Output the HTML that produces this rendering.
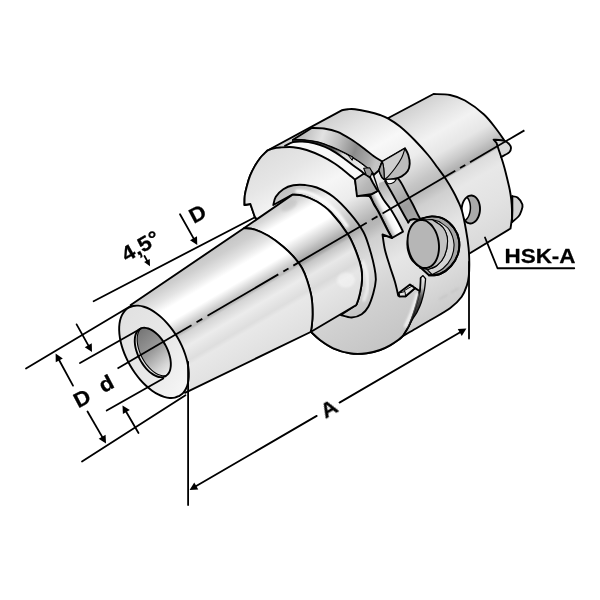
<!DOCTYPE html>
<html><head><meta charset="utf-8"><title>HSK-A</title>
<style>
html,body{margin:0;padding:0;background:#fff;}
svg{display:block;}
text{font-family:"Liberation Sans",sans-serif;font-weight:bold;fill:#000;}
</style></head><body>
<svg width="600" height="600" viewBox="0 0 600 600" stroke-linejoin="round" stroke-linecap="round">
<defs>
<filter id="bl" x="-20%" y="-20%" width="140%" height="140%"><feGaussianBlur stdDeviation="0.9"/></filter><linearGradient id="gCone" gradientUnits="userSpaceOnUse" x1="190.2" y1="259.6" x2="249.8" y2="361.4"><stop offset="0" stop-color="#c4c4c4"/><stop offset="0.09" stop-color="#cecece"/><stop offset="0.18" stop-color="#e4e4e4"/><stop offset="0.26" stop-color="#ffffff"/><stop offset="0.37" stop-color="#ffffff"/><stop offset="0.455" stop-color="#d0d0d0"/><stop offset="0.5" stop-color="#bababa"/><stop offset="0.52" stop-color="#d4d4d4"/><stop offset="0.62" stop-color="#ececec"/><stop offset="0.73" stop-color="#dedede"/><stop offset="0.77" stop-color="#e8e8e8"/><stop offset="1" stop-color="#e0e0e0"/></linearGradient><linearGradient id="gCyl" gradientUnits="userSpaceOnUse" x1="268.2" y1="209.3" x2="331.8" y2="318.1"><stop offset="0" stop-color="#c8c8c8"/><stop offset="0.06" stop-color="#d8d8d8"/><stop offset="0.15" stop-color="#ffffff"/><stop offset="0.3" stop-color="#ffffff"/><stop offset="0.4" stop-color="#d2d2d2"/><stop offset="0.47" stop-color="#adadad"/><stop offset="0.505" stop-color="#a6a6a6"/><stop offset="0.53" stop-color="#c6c6c6"/><stop offset="0.62" stop-color="#e8e8e8"/><stop offset="0.72" stop-color="#dadada"/><stop offset="0.78" stop-color="#e6e6e6"/><stop offset="1" stop-color="#dcdcdc"/></linearGradient><linearGradient id="gFace" gradientUnits="userSpaceOnUse" x1="120.0" y1="330.0" x2="190.0" y2="375.0"><stop offset="0" stop-color="#e2e2e2"/><stop offset="0.6" stop-color="#e9e9e9"/><stop offset="1" stop-color="#f4f4f4"/></linearGradient><linearGradient id="gHole" gradientUnits="userSpaceOnUse" x1="136.0" y1="335.0" x2="170.0" y2="372.0"><stop offset="0" stop-color="#787878"/><stop offset="0.45" stop-color="#9a9a9a"/><stop offset="0.8" stop-color="#d2d2d2"/><stop offset="1" stop-color="#ececec"/></linearGradient><linearGradient id="gFlFace" gradientUnits="userSpaceOnUse" x1="273.4" y1="149.5" x2="386.6" y2="342.8"><stop offset="0" stop-color="#dedede"/><stop offset="0.12" stop-color="#e6e6e6"/><stop offset="0.25" stop-color="#f6f6f6"/><stop offset="0.36" stop-color="#ececec"/><stop offset="0.44" stop-color="#c8c8c8"/><stop offset="0.49" stop-color="#b2b2b2"/><stop offset="0.52" stop-color="#b8b8b8"/><stop offset="0.57" stop-color="#d0d0d0"/><stop offset="0.68" stop-color="#dedede"/><stop offset="0.8" stop-color="#d2d2d2"/><stop offset="1" stop-color="#c6c6c6"/></linearGradient><linearGradient id="gFlRim" gradientUnits="userSpaceOnUse" x1="363.4" y1="96.8" x2="476.6" y2="290.1"><stop offset="0" stop-color="#d0d0d0"/><stop offset="0.1" stop-color="#e4e4e4"/><stop offset="0.22" stop-color="#f8f8f8"/><stop offset="0.34" stop-color="#ececec"/><stop offset="0.45" stop-color="#c6c6c6"/><stop offset="0.5" stop-color="#bababa"/><stop offset="0.55" stop-color="#d0d0d0"/><stop offset="0.7" stop-color="#e6e6e6"/><stop offset="0.85" stop-color="#dcdcdc"/><stop offset="1" stop-color="#cccccc"/></linearGradient><linearGradient id="gShank" gradientUnits="userSpaceOnUse" x1="430.6" y1="96.9" x2="509.4" y2="231.5"><stop offset="0" stop-color="#d2d2d2"/><stop offset="0.1" stop-color="#e2e2e2"/><stop offset="0.22" stop-color="#f2f2f2"/><stop offset="0.34" stop-color="#e6e6e6"/><stop offset="0.42" stop-color="#cacaca"/><stop offset="0.495" stop-color="#aaaaaa"/><stop offset="0.505" stop-color="#dcdcdc"/><stop offset="0.6" stop-color="#e8e8e8"/><stop offset="0.8" stop-color="#e2e2e2"/><stop offset="1" stop-color="#d8d8d8"/></linearGradient><linearGradient id="gGroove" gradientUnits="userSpaceOnUse" x1="294.4" y1="139.5" x2="405.6" y2="329.4"><stop offset="0" stop-color="#b4b4b4"/><stop offset="0.15" stop-color="#c8c8c8"/><stop offset="0.25" stop-color="#eeeeee"/><stop offset="0.36" stop-color="#c0c0c0"/><stop offset="0.5" stop-color="#a0a0a0"/><stop offset="0.6" stop-color="#b8b8b8"/><stop offset="1" stop-color="#c8c8c8"/></linearGradient><linearGradient id="gCollar" gradientUnits="userSpaceOnUse" x1="288.6" y1="186.9" x2="361.4" y2="311.2"><stop offset="0" stop-color="#c0c0c0"/><stop offset="0.1" stop-color="#cecece"/><stop offset="0.2" stop-color="#f4f4f4"/><stop offset="0.32" stop-color="#e0e0e0"/><stop offset="0.46" stop-color="#bababa"/><stop offset="0.5" stop-color="#adadad"/><stop offset="0.56" stop-color="#cacaca"/><stop offset="0.75" stop-color="#e0e0e0"/><stop offset="1" stop-color="#c6c6c6"/></linearGradient><clipPath id="cpSH"><path d="M470.07,223.48 C470.47,223.42 471.69,223.40 472.47,223.13 C473.25,222.86 474.04,222.42 474.76,221.85 C475.48,221.28 476.17,220.55 476.78,219.73 C477.38,218.90 477.94,217.93 478.39,216.91 C478.84,215.88 479.22,214.74 479.48,213.58 C479.75,212.43 479.92,211.19 479.99,209.98 C480.05,208.78 480.01,207.52 479.86,206.35 C479.72,205.17 479.46,203.99 479.12,202.93 C478.78,201.86 478.33,200.84 477.81,199.95 C477.30,199.07 476.68,198.27 476.03,197.63 C475.37,196.99 474.63,196.47 473.89,196.12 C473.14,195.77 472.33,195.56 471.53,195.52 C470.74,195.48 469.91,195.60 469.13,195.87 C468.35,196.14 467.56,196.58 466.84,197.15 C466.12,197.72 465.43,198.45 464.82,199.27 C464.22,200.10 463.66,201.07 463.21,202.09 C462.76,203.12 462.38,204.26 462.12,205.42 C461.85,206.57 461.68,207.81 461.61,209.02 C461.55,210.22 461.59,211.48 461.74,212.65 C461.88,213.83 462.14,215.01 462.48,216.07 C462.82,217.14 463.27,218.16 463.79,219.05 C464.30,219.93 464.92,220.73 465.57,221.37 C466.23,222.01 466.97,222.53 467.71,222.88 C468.46,223.23 469.68,223.38 470.07,223.48 C470.46,223.58 469.67,223.54 470.07,223.48Z"/></clipPath><linearGradient id="gLens" gradientUnits="userSpaceOnUse" x1="295.0" y1="138.0" x2="375.0" y2="165.0"><stop offset="0" stop-color="#b0b0b0"/><stop offset="0.3" stop-color="#e2e2e2"/><stop offset="0.5" stop-color="#c0c0c0"/><stop offset="0.72" stop-color="#8c8c8c"/><stop offset="0.9" stop-color="#a8a8a8"/><stop offset="1" stop-color="#c4c4c4"/></linearGradient><linearGradient id="gWedge" gradientUnits="userSpaceOnUse" x1="300.0" y1="140.0" x2="365.0" y2="172.0"><stop offset="0" stop-color="#2a2a2a"/><stop offset="0.45" stop-color="#454545"/><stop offset="0.62" stop-color="#d8d8d8"/><stop offset="1" stop-color="#f0f0f0"/></linearGradient><linearGradient id="gB34" gradientUnits="userSpaceOnUse" x1="392.0" y1="180.0" x2="418.0" y2="222.0"><stop offset="0" stop-color="#c4c4c4"/><stop offset="0.35" stop-color="#b0b0b0"/><stop offset="0.6" stop-color="#9c9c9c"/><stop offset="1" stop-color="#a8a8a8"/></linearGradient><linearGradient id="gB23" gradientUnits="userSpaceOnUse" x1="382.0" y1="186.0" x2="406.0" y2="228.0"><stop offset="0" stop-color="#b8b8b8"/><stop offset="0.3" stop-color="#d4d4d4"/><stop offset="0.6" stop-color="#e6e6e6"/><stop offset="1" stop-color="#d0d0d0"/></linearGradient><linearGradient id="gStrip" gradientUnits="userSpaceOnUse" x1="379.5" y1="214.5" x2="389.0" y2="209.7"><stop offset="0" stop-color="#8a8a8a"/><stop offset="0.25" stop-color="#bdbdbd"/><stop offset="0.55" stop-color="#f2f2f2"/><stop offset="1" stop-color="#ffffff"/></linearGradient><linearGradient id="gStrip2" gradientUnits="userSpaceOnUse" x1="422.0" y1="277.0" x2="416.0" y2="318.0"><stop offset="0" stop-color="#f0f0f0"/><stop offset="0.25" stop-color="#c0c0c0"/><stop offset="0.5" stop-color="#505050"/><stop offset="1" stop-color="#202020"/></linearGradient><linearGradient id="gKey" gradientUnits="userSpaceOnUse" x1="356.0" y1="176.0" x2="376.0" y2="194.0"><stop offset="0" stop-color="#d0d0d0"/><stop offset="0.5" stop-color="#b8b8b8"/><stop offset="1" stop-color="#a8a8a8"/></linearGradient><clipPath id="cpHole"><path d="M165.43,376.25 C165.77,375.99 166.87,375.33 167.48,374.70 C168.08,374.07 168.63,373.32 169.08,372.47 C169.53,371.63 169.90,370.67 170.18,369.64 C170.46,368.61 170.66,367.48 170.76,366.29 C170.86,365.10 170.87,363.82 170.79,362.52 C170.71,361.21 170.54,359.83 170.28,358.44 C170.02,357.05 169.66,355.61 169.23,354.18 C168.80,352.75 168.28,351.30 167.69,349.87 C167.10,348.45 166.42,347.02 165.69,345.65 C164.96,344.27 164.15,342.91 163.30,341.63 C162.45,340.34 161.54,339.09 160.59,337.94 C159.65,336.78 158.66,335.68 157.65,334.69 C156.64,333.70 155.60,332.78 154.56,331.98 C153.52,331.18 152.45,330.48 151.41,329.90 C150.37,329.32 149.32,328.85 148.31,328.50 C147.30,328.16 146.29,327.93 145.34,327.84 C144.39,327.74 143.46,327.77 142.60,327.92 C141.74,328.07 140.92,328.35 140.17,328.75 C139.43,329.15 138.73,329.67 138.12,330.30 C137.52,330.93 136.97,331.68 136.52,332.53 C136.07,333.37 135.70,334.33 135.42,335.36 C135.14,336.39 134.94,337.52 134.84,338.71 C134.74,339.90 134.73,341.18 134.81,342.48 C134.89,343.79 135.06,345.17 135.32,346.56 C135.58,347.95 135.94,349.39 136.37,350.82 C136.80,352.25 137.32,353.70 137.91,355.13 C138.50,356.55 139.18,357.98 139.91,359.35 C140.64,360.73 141.45,362.09 142.30,363.37 C143.15,364.66 144.06,365.91 145.01,367.06 C145.95,368.22 146.94,369.32 147.95,370.31 C148.96,371.30 150.00,372.22 151.04,373.02 C152.08,373.82 153.15,374.52 154.19,375.10 C155.23,375.68 156.28,376.15 157.29,376.50 C158.30,376.84 159.31,377.07 160.26,377.16 C161.21,377.26 162.14,377.23 163.00,377.08 C163.86,376.93 165.02,376.39 165.43,376.25 C165.83,376.11 165.09,376.51 165.43,376.25Z"/></clipPath>
</defs>
<rect width="600" height="600" fill="#fff"/>
<path d="M388.30,118.00 L433.50,94.00 C436.25,94.17 444.75,93.92 450.00,95.00 C455.25,96.08 459.33,97.25 465.00,100.50 C470.67,103.75 478.67,109.58 484.00,114.50 C489.33,119.42 493.58,125.62 497.00,130.00 C500.42,134.38 503.25,139.00 504.50,140.80 L501.20,157.00 C501.75,158.83 503.45,164.17 504.50,168.00 C505.55,171.83 506.62,176.33 507.50,180.00 C508.38,183.67 509.17,186.67 509.80,190.00 C510.43,193.33 510.93,196.67 511.30,200.00 C511.67,203.33 511.88,207.08 512.00,210.00 C512.12,212.92 512.12,215.33 512.00,217.50 C511.88,219.67 511.55,221.17 511.30,223.00 C511.05,224.83 510.63,227.58 510.50,228.50 L467.00,255.00 L440.00,180.00Z" fill="url(#gShank)" stroke="#000" stroke-width="1.9" />
<path d="M493.60,139.60 C495.42,139.80 501.87,140.02 504.50,140.80 C507.13,141.58 508.32,143.10 509.40,144.30 C510.48,145.50 511.03,146.65 511.00,148.00 C510.97,149.35 510.83,150.90 509.20,152.40 C507.57,153.90 502.53,156.23 501.20,157.00 L498.80,150.00 L496.50,142.80Z" fill="#d8d8d8" stroke="#000" stroke-width="1.9" />
<path d="M512.20,196.30 C513.08,196.50 515.80,196.13 517.50,197.50 C519.20,198.87 521.77,202.25 522.40,204.50 C523.03,206.75 521.95,209.00 521.30,211.00 C520.65,213.00 520.05,214.67 518.50,216.50 C516.95,218.33 513.08,221.08 512.00,222.00 L512.00,210.00Z" fill="#d2d2d2" stroke="#000" stroke-width="1.9" />
<path d="M512.20,196.30 L512.40,210.00 L512.00,222.00" fill="none" stroke="#000" stroke-width="1.9" />
<path d="M470.07,223.48 C470.47,223.42 471.69,223.40 472.47,223.13 C473.25,222.86 474.04,222.42 474.76,221.85 C475.48,221.28 476.17,220.55 476.78,219.73 C477.38,218.90 477.94,217.93 478.39,216.91 C478.84,215.88 479.22,214.74 479.48,213.58 C479.75,212.43 479.92,211.19 479.99,209.98 C480.05,208.78 480.01,207.52 479.86,206.35 C479.72,205.17 479.46,203.99 479.12,202.93 C478.78,201.86 478.33,200.84 477.81,199.95 C477.30,199.07 476.68,198.27 476.03,197.63 C475.37,196.99 474.63,196.47 473.89,196.12 C473.14,195.77 472.33,195.56 471.53,195.52 C470.74,195.48 469.91,195.60 469.13,195.87 C468.35,196.14 467.56,196.58 466.84,197.15 C466.12,197.72 465.43,198.45 464.82,199.27 C464.22,200.10 463.66,201.07 463.21,202.09 C462.76,203.12 462.38,204.26 462.12,205.42 C461.85,206.57 461.68,207.81 461.61,209.02 C461.55,210.22 461.59,211.48 461.74,212.65 C461.88,213.83 462.14,215.01 462.48,216.07 C462.82,217.14 463.27,218.16 463.79,219.05 C464.30,219.93 464.92,220.73 465.57,221.37 C466.23,222.01 466.97,222.53 467.71,222.88 C468.46,223.23 469.68,223.38 470.07,223.48 C470.46,223.58 469.67,223.54 470.07,223.48Z" fill="#a9a9a9" stroke="none" stroke-width="1.9" />
<g clip-path="url(#cpSH)">
<path d="M460.47,222.28 C460.87,222.22 462.09,222.20 462.87,221.93 C463.65,221.66 464.44,221.22 465.16,220.65 C465.88,220.08 466.57,219.35 467.18,218.53 C467.78,217.70 468.34,216.73 468.79,215.71 C469.24,214.68 469.62,213.54 469.88,212.38 C470.15,211.23 470.32,209.99 470.39,208.78 C470.45,207.58 470.41,206.32 470.26,205.15 C470.12,203.97 469.86,202.79 469.52,201.73 C469.18,200.66 468.73,199.64 468.21,198.75 C467.70,197.87 467.08,197.07 466.43,196.43 C465.77,195.79 465.03,195.27 464.29,194.92 C463.54,194.57 462.73,194.36 461.93,194.32 C461.14,194.28 460.31,194.40 459.53,194.67 C458.75,194.94 457.96,195.38 457.24,195.95 C456.52,196.52 455.83,197.25 455.22,198.07 C454.62,198.90 454.06,199.87 453.61,200.89 C453.16,201.92 452.78,203.06 452.52,204.22 C452.25,205.37 452.08,206.61 452.01,207.82 C451.95,209.02 451.99,210.28 452.14,211.45 C452.28,212.63 452.54,213.81 452.88,214.87 C453.22,215.94 453.67,216.96 454.19,217.85 C454.70,218.73 455.32,219.53 455.97,220.17 C456.63,220.81 457.37,221.33 458.11,221.68 C458.86,222.03 460.08,222.18 460.47,222.28 C460.86,222.38 460.07,222.34 460.47,222.28Z" fill="#ffffff" stroke="#000" stroke-width="1.5" />
</g>
<path d="M470.07,223.48 C470.47,223.42 471.69,223.40 472.47,223.13 C473.25,222.86 474.04,222.42 474.76,221.85 C475.48,221.28 476.17,220.55 476.78,219.73 C477.38,218.90 477.94,217.93 478.39,216.91 C478.84,215.88 479.22,214.74 479.48,213.58 C479.75,212.43 479.92,211.19 479.99,209.98 C480.05,208.78 480.01,207.52 479.86,206.35 C479.72,205.17 479.46,203.99 479.12,202.93 C478.78,201.86 478.33,200.84 477.81,199.95 C477.30,199.07 476.68,198.27 476.03,197.63 C475.37,196.99 474.63,196.47 473.89,196.12 C473.14,195.77 472.33,195.56 471.53,195.52 C470.74,195.48 469.91,195.60 469.13,195.87 C468.35,196.14 467.56,196.58 466.84,197.15 C466.12,197.72 465.43,198.45 464.82,199.27 C464.22,200.10 463.66,201.07 463.21,202.09 C462.76,203.12 462.38,204.26 462.12,205.42 C461.85,206.57 461.68,207.81 461.61,209.02 C461.55,210.22 461.59,211.48 461.74,212.65 C461.88,213.83 462.14,215.01 462.48,216.07 C462.82,217.14 463.27,218.16 463.79,219.05 C464.30,219.93 464.92,220.73 465.57,221.37 C466.23,222.01 466.97,222.53 467.71,222.88 C468.46,223.23 469.68,223.38 470.07,223.48 C470.46,223.58 469.67,223.54 470.07,223.48Z" fill="none" stroke="#000" stroke-width="1.9" />
<path d="M267.50,150.50 L341.70,110.30 C342.75,110.12 345.78,109.38 348.00,109.20 C350.22,109.02 351.62,108.78 355.00,109.20 C358.38,109.62 364.13,110.73 368.30,111.70 C372.47,112.67 376.67,113.85 380.00,115.00 C383.33,116.15 384.97,116.68 388.30,118.60 C391.63,120.52 395.63,122.93 400.00,126.50 C404.37,130.07 409.75,135.17 414.50,140.00 C419.25,144.83 424.67,150.92 428.50,155.50 C432.33,160.08 434.67,163.67 437.50,167.50 C440.33,171.33 442.92,174.58 445.50,178.50 C448.08,182.42 450.92,187.25 453.00,191.00 C455.08,194.75 456.50,197.67 458.00,201.00 C459.50,204.33 460.67,206.17 462.00,211.00 C463.33,215.83 464.90,223.83 466.00,230.00 C467.10,236.17 468.05,242.33 468.60,248.00 C469.15,253.67 469.27,259.33 469.30,264.00 C469.33,268.67 469.18,272.50 468.80,276.00 C468.42,279.50 468.18,281.55 467.00,285.00 C465.82,288.45 464.53,292.82 461.70,296.70 C458.87,300.58 455.28,304.37 450.00,308.30 C444.72,312.23 435.67,316.93 430.00,320.30 C424.33,323.67 420.50,325.92 416.00,328.50 C411.50,331.08 405.17,334.58 403.00,335.80 C402.25,336.47 400.67,338.22 398.50,339.80 C396.33,341.38 393.08,343.60 390.00,345.30 C386.92,347.00 383.88,348.67 380.00,350.00 C376.12,351.33 371.70,352.75 366.70,353.30 C361.70,353.85 355.57,354.13 350.00,353.30 C344.43,352.47 338.30,350.52 333.30,348.30 C328.30,346.08 323.75,342.77 320.00,340.00 C316.25,337.23 312.33,333.08 310.80,331.70 L300.00,250.00 L255.00,217.50 L250.40,204.00 L244.50,205.00 C244.55,203.42 244.40,198.67 244.80,195.50 C245.20,192.33 246.02,189.30 246.90,186.00 C247.78,182.70 248.78,179.02 250.10,175.70 C251.42,172.38 253.08,169.10 254.80,166.10 C256.52,163.10 258.82,159.78 260.40,157.70 C261.98,155.62 263.12,154.80 264.30,153.60 C265.48,152.40 266.97,151.02 267.50,150.50Z" fill="url(#gFlRim)" stroke="#000" stroke-width="1.9" />
<path d="M311.70,128.00 C313.75,128.08 319.70,127.87 324.00,128.50 C328.30,129.13 333.00,130.00 337.50,131.80 C342.00,133.60 346.58,136.52 351.00,139.30 C355.42,142.08 360.25,145.72 364.00,148.50 C367.75,151.28 370.45,153.83 373.50,156.00 C376.55,158.17 380.83,160.58 382.30,161.50 L379.00,170.30 L373.70,175.00 C372.80,174.00 370.97,171.33 368.30,169.00 C365.63,166.67 361.50,163.55 357.70,161.00 C353.90,158.45 349.83,156.00 345.50,153.70 C341.17,151.40 336.23,149.10 331.70,147.20 C327.17,145.30 322.75,143.45 318.30,142.30 C313.85,141.15 309.22,140.73 305.00,140.30 C300.78,139.87 295.00,139.80 293.00,139.70Z" fill="url(#gLens)" stroke="#000" stroke-width="1.9" />
<path d="M293.00,139.70 C295.00,139.80 300.78,139.87 305.00,140.30 C309.22,140.73 313.85,141.15 318.30,142.30 C322.75,143.45 327.17,145.30 331.70,147.20 C336.23,149.10 341.17,151.40 345.50,153.70 C349.83,156.00 353.90,158.45 357.70,161.00 C361.50,163.55 366.53,167.67 368.30,169.00 L364.00,174.00 C363.62,173.58 363.53,172.95 361.70,171.50 C359.87,170.05 355.78,167.35 353.00,165.30 C350.22,163.25 347.88,161.32 345.00,159.20 C342.12,157.08 339.03,154.63 335.70,152.60 C332.37,150.57 328.57,148.55 325.00,147.00 C321.43,145.45 318.08,144.20 314.30,143.30 C310.52,142.40 305.85,141.78 302.30,141.60 C298.75,141.42 294.55,142.10 293.00,142.20Z" fill="url(#gWedge)" stroke="#000" stroke-width="1.0" />
<path d="M391.00,172.00 C392.45,173.42 397.08,176.95 399.70,180.50 C402.32,184.05 404.57,189.42 406.70,193.30 C408.83,197.18 410.57,200.10 412.50,203.80 C414.43,207.50 416.83,212.77 418.30,215.50 C419.77,218.23 420.80,219.42 421.30,220.20 L414.00,219.00 L410.00,220.00 L408.30,222.50 C407.63,221.33 405.93,218.42 404.30,215.50 C402.67,212.58 400.63,208.88 398.50,205.00 C396.37,201.12 393.73,196.18 391.50,192.20 C389.27,188.22 386.17,182.95 385.10,181.10Z" fill="url(#gB34)" stroke="none" stroke-width="1.9" />
<path d="M385.10,181.10 C386.17,182.95 389.27,188.22 391.50,192.20 C393.73,196.18 396.37,201.12 398.50,205.00 C400.63,208.88 402.67,212.58 404.30,215.50 C405.93,218.42 407.63,221.33 408.30,222.50 L403.00,231.60 C402.67,230.92 402.08,229.60 401.00,227.50 C399.92,225.40 398.25,222.08 396.50,219.00 C394.75,215.92 392.58,212.12 390.50,209.00 C388.42,205.88 385.97,203.30 384.00,200.30 C382.03,197.30 379.58,192.55 378.70,191.00 L379.00,183.00Z" fill="url(#gB23)" stroke="none" stroke-width="1.9" />
<path d="M391.00,172.00 C392.45,173.42 397.08,176.95 399.70,180.50 C402.32,184.05 404.57,189.42 406.70,193.30 C408.83,197.18 410.57,200.10 412.50,203.80 C414.43,207.50 416.83,212.77 418.30,215.50 C419.77,218.23 420.80,219.42 421.30,220.20" fill="none" stroke="#000" stroke-width="1.9" />
<path d="M385.10,181.10 C386.17,182.95 389.27,188.22 391.50,192.20 C393.73,196.18 396.37,201.12 398.50,205.00 C400.63,208.88 402.67,212.58 404.30,215.50 C405.93,218.42 407.63,221.33 408.30,222.50" fill="none" stroke="#000" stroke-width="1.9" />
<path d="M408.30,222.50 L410.00,220.00 L414.00,219.00 L421.30,220.20" fill="none" stroke="#000" stroke-width="1.9" />
<path d="M267.50,150.50 C268.42,150.17 270.92,149.00 273.00,148.50 C275.08,148.00 276.62,147.72 280.00,147.50 C283.38,147.28 288.85,146.78 293.30,147.20 C297.75,147.62 301.97,148.50 306.70,150.00 C311.43,151.50 316.98,153.92 321.70,156.20 C326.42,158.48 331.45,161.45 335.00,163.70 C338.55,165.95 340.33,167.60 343.00,169.70 C345.67,171.80 349.00,174.63 351.00,176.30 C353.00,177.97 354.33,179.13 355.00,179.70 L363.70,173.70 L364.00,174.00 C363.62,173.58 363.53,172.95 361.70,171.50 C359.87,170.05 355.78,167.35 353.00,165.30 C350.22,163.25 347.88,161.32 345.00,159.20 C342.12,157.08 339.03,154.63 335.70,152.60 C332.37,150.57 328.57,148.55 325.00,147.00 C321.43,145.45 318.08,144.20 314.30,143.30 C310.52,142.40 305.85,141.78 302.30,141.60 C298.75,141.42 295.88,141.50 293.00,142.20 C290.12,142.90 286.33,145.20 285.00,145.80 L280.00,147.50Z" fill="#f8f8f8" stroke="none" stroke-width="1.9" />
<path d="M285.00,145.80 C286.33,145.20 290.12,142.90 293.00,142.20 C295.88,141.50 298.75,141.42 302.30,141.60 C305.85,141.78 310.52,142.40 314.30,143.30 C318.08,144.20 321.43,145.45 325.00,147.00 C328.57,148.55 332.37,150.57 335.70,152.60 C339.03,154.63 342.12,157.08 345.00,159.20 C347.88,161.32 350.22,163.25 353.00,165.30 C355.78,167.35 359.87,170.05 361.70,171.50 C363.53,172.95 363.62,173.58 364.00,174.00" fill="none" stroke="#000" stroke-width="1.9" />
<path d="M369.90,195.10 C370.50,196.50 372.07,200.68 373.50,203.50 C374.93,206.32 376.92,209.08 378.50,212.00 C380.08,214.92 381.50,218.00 383.00,221.00 C384.50,224.00 386.00,227.17 387.50,230.00 C389.00,232.83 391.25,236.67 392.00,238.00 L403.00,231.60 C402.67,230.92 402.08,229.60 401.00,227.50 C399.92,225.40 398.25,222.08 396.50,219.00 C394.75,215.92 392.58,212.12 390.50,209.00 C388.42,205.88 385.97,203.30 384.00,200.30 C382.03,197.30 379.58,192.55 378.70,191.00 L377.70,191.00Z" fill="url(#gStrip)" stroke="#000" stroke-width="1.9" />
<path d="M255.00,217.50 L250.40,204.00 L244.50,205.00 C244.55,203.42 244.40,198.67 244.80,195.50 C245.20,192.33 246.02,189.30 246.90,186.00 C247.78,182.70 248.78,179.02 250.10,175.70 C251.42,172.38 253.08,169.10 254.80,166.10 C256.52,163.10 258.82,159.78 260.40,157.70 C261.98,155.62 263.12,154.80 264.30,153.60 C265.48,152.40 266.97,151.02 267.50,150.50 C268.42,150.17 270.92,149.00 273.00,148.50 C275.08,148.00 276.62,147.72 280.00,147.50 C283.38,147.28 288.85,146.78 293.30,147.20 C297.75,147.62 301.97,148.50 306.70,150.00 C311.43,151.50 316.98,153.92 321.70,156.20 C326.42,158.48 331.45,161.45 335.00,163.70 C338.55,165.95 340.33,167.60 343.00,169.70 C345.67,171.80 349.00,174.63 351.00,176.30 C353.00,177.97 354.33,179.13 355.00,179.70 L357.50,195.30 L369.00,196.00 C370.50,196.50 372.07,200.68 373.50,203.50 C374.93,206.32 376.92,209.08 378.50,212.00 C380.08,214.92 381.50,218.00 383.00,221.00 C384.50,224.00 386.00,227.17 387.50,230.00 C389.00,232.83 391.25,236.67 392.00,238.00 L382.50,234.50 C382.92,237.08 383.75,244.63 385.00,250.00 C386.25,255.37 388.33,261.37 390.00,266.70 C391.67,272.03 393.62,277.15 395.00,282.00 C396.38,286.85 397.75,293.50 398.30,295.80 L405.60,296.25 L415.00,288.10 L419.60,291.00 C419.15,292.92 417.98,298.50 416.90,302.50 C415.82,306.50 414.46,311.04 413.10,315.00 C411.74,318.96 410.43,322.78 408.75,326.25 C407.07,329.72 403.96,334.21 403.00,335.80 C402.25,336.47 400.67,338.22 398.50,339.80 C396.33,341.38 393.08,343.60 390.00,345.30 C386.92,347.00 383.88,348.67 380.00,350.00 C376.12,351.33 371.70,352.75 366.70,353.30 C361.70,353.85 355.57,354.13 350.00,353.30 C344.43,352.47 338.30,350.52 333.30,348.30 C328.30,346.08 323.75,342.77 320.00,340.00 C316.25,337.23 312.33,333.08 310.80,331.70 L300.00,250.00Z" fill="url(#gFlFace)" stroke="#000" stroke-width="1.9" />
<path d="M398.75,293.10 L410.00,284.40 L415.00,288.10 L405.60,296.25 L399.40,296.60Z" fill="#e4e4e4" stroke="#000" stroke-width="1.9" />
<path d="M405.60,296.25 L405.00,291.50 L398.75,293.10" fill="none" stroke="#000" stroke-width="1.0" />
<path d="M404.50,290.50 L413.00,285.50" fill="none" stroke="#000" stroke-width="1.0" />
<path d="M408.75,326.25 C409.48,324.38 411.74,318.96 413.10,315.00 C414.46,311.04 415.75,306.67 416.90,302.50 C418.05,298.33 419.38,294.12 420.00,290.00 C420.62,285.88 420.50,279.83 420.60,277.80 L423.00,275.60 L425.60,278.75 C425.40,280.62 425.12,286.04 424.40,290.00 C423.67,293.96 422.50,298.75 421.25,302.50 C420.00,306.25 418.22,309.92 416.90,312.50 C415.57,315.08 414.66,315.71 413.30,318.00 C411.94,320.29 409.51,324.88 408.75,326.25Z" fill="url(#gStrip2)" stroke="#000" stroke-width="1.3" />
<path d="M403.00,335.80 C403.96,334.21 407.07,329.72 408.75,326.25 C410.43,322.78 411.74,318.96 413.10,315.00 C414.46,311.04 415.75,306.67 416.90,302.50 C418.05,298.33 419.38,294.12 420.00,290.00 C420.62,285.88 420.50,279.83 420.60,277.80" fill="none" stroke="#000" stroke-width="1.5" />
<path d="M417.30,294.00 C416.83,295.67 415.63,300.50 414.50,304.00 C413.37,307.50 412.00,311.33 410.50,315.00 C409.00,318.67 406.33,324.17 405.50,326.00" fill="none" stroke="#ffffff" stroke-width="3.0" opacity="0.8" filter="url(#bl)"/>
<path d="M355.00,179.50 L363.70,173.70 L366.30,175.00 L370.30,177.70 L373.00,183.00 L377.70,191.00 L371.00,194.30 L357.00,196.30Z" fill="url(#gKey)" stroke="#000" stroke-width="1.9" />
<path d="M363.70,168.30 L369.70,167.70 L372.30,172.30 L370.30,177.00 L366.30,175.00Z" fill="#9c9c9c" stroke="#000" stroke-width="1.1" />
<path d="M348.30,155.00 L353.00,157.00 L352.30,160.00Z" fill="#a0a0a0" stroke="#000" stroke-width="1.0" />
<path d="M372.50,172.30 C373.00,173.75 374.47,177.88 375.50,181.00 C376.53,184.12 378.17,189.33 378.70,191.00" fill="none" stroke="#000" stroke-width="1.4" />
<path d="M382.30,161.50 L405.00,148.30 C405.55,149.42 407.52,152.43 408.30,155.00 C409.08,157.57 409.80,161.03 409.70,163.70 C409.60,166.37 409.03,168.90 407.70,171.00 C406.37,173.10 404.03,174.97 401.70,176.30 C399.37,177.63 396.37,178.43 393.70,179.00 C391.03,179.57 387.60,179.92 385.70,179.70 C383.80,179.48 383.20,178.70 382.30,177.70 C381.40,176.70 380.85,174.93 380.30,173.70 C379.75,172.47 379.22,170.87 379.00,170.30Z" fill="#bcbcbc" stroke="#000" stroke-width="1.9" />
<path d="M382.30,161.50 L405.00,148.30 C404.45,149.87 403.37,154.37 401.70,157.70 C400.03,161.03 397.23,165.20 395.00,168.30 C392.77,171.40 390.08,174.43 388.30,176.30 C386.52,178.17 384.97,178.97 384.30,179.50 C384.20,177.63 384.03,171.30 383.70,168.30 C383.37,165.30 382.53,162.63 382.30,161.50Z" fill="#cecece" stroke="#000" stroke-width="1.1" />
<path d="M382.30,161.50 C382.53,162.63 383.37,165.30 383.70,168.30 C384.03,171.30 384.20,177.63 384.30,179.50 L382.30,177.70 L380.30,173.70 L379.00,170.30Z" fill="#a4a4a4" stroke="#000" stroke-width="1.1" />
<path d="M385.70,179.50 C386.08,180.17 386.70,183.00 388.00,183.50 C389.30,184.00 392.08,183.25 393.50,182.50 C394.92,181.75 396.00,179.58 396.50,179.00Z" fill="#ffffff" stroke="#000" stroke-width="1.1" />
<path d="M420.00,219.00 C422.00,218.57 428.00,216.40 432.00,216.40 C436.00,216.40 440.33,217.07 444.00,219.00 C447.67,220.93 451.50,224.50 454.00,228.00 C456.50,231.50 458.33,235.67 459.00,240.00 C459.67,244.33 459.33,249.67 458.00,254.00 C456.67,258.33 454.00,262.67 451.00,266.00 C448.00,269.33 443.67,272.45 440.00,274.00 C436.33,275.55 430.83,275.08 429.00,275.30 L421.00,268.00 C419.50,266.67 414.17,263.00 412.00,260.00 C409.83,257.00 408.73,253.00 408.00,250.00 C407.27,247.00 407.27,245.33 407.60,242.00 C407.93,238.67 408.77,233.25 410.00,230.00 C411.23,226.75 413.33,224.33 415.00,222.50 C416.67,220.67 419.17,219.58 420.00,219.00Z" fill="#a6a6a6" stroke="#000" stroke-width="1.9" />
<path d="M439.00,221.50 C440.67,222.83 446.50,225.75 449.00,229.50 C451.50,233.25 453.67,239.17 454.00,244.00 C454.33,248.83 452.83,254.42 451.00,258.50 C449.17,262.58 446.17,265.83 443.00,268.50 C439.83,271.17 433.83,273.50 432.00,274.50 L426.00,268.40 C429.50,268.83 434.25,267.75 437.00,265.50 C439.75,263.25 442.75,260.25 444.50,256.00 C446.25,251.75 447.75,244.75 447.50,240.00 C447.25,235.25 445.58,230.92 443.00,227.50 C440.42,224.08 433.83,220.83 432.00,219.50Z" fill="#d4d4d4" stroke="#000" stroke-width="1.1" />
<path d="M432.00,219.50 C433.83,220.83 440.42,224.08 443.00,227.50 C445.58,230.92 447.25,235.25 447.50,240.00 C447.75,244.75 446.25,251.75 444.50,256.00 C442.75,260.25 439.75,263.25 437.00,265.50 C434.25,267.75 429.50,268.83 428.00,269.50 L420.00,268.20 L422.00,220.00Z" fill="#c2c2c2" stroke="#000" stroke-width="1.1" />
<path d="M426.67,267.96 C427.10,267.84 428.44,267.59 429.28,267.23 C430.12,266.86 430.95,266.37 431.71,265.78 C432.48,265.19 433.22,264.48 433.89,263.68 C434.56,262.87 435.19,261.96 435.75,260.97 C436.30,259.98 436.80,258.89 437.22,257.75 C437.64,256.61 438.00,255.38 438.28,254.11 C438.55,252.85 438.75,251.52 438.88,250.17 C439.00,248.82 439.04,247.42 439.00,246.04 C438.96,244.65 438.84,243.23 438.65,241.84 C438.45,240.46 438.18,239.06 437.83,237.71 C437.48,236.37 437.06,235.04 436.57,233.78 C436.08,232.52 435.52,231.29 434.91,230.15 C434.30,229.01 433.61,227.93 432.89,226.94 C432.17,225.96 431.39,225.05 430.59,224.26 C429.78,223.46 428.92,222.75 428.06,222.17 C427.19,221.58 426.29,221.10 425.38,220.74 C424.48,220.39 423.56,220.14 422.65,220.02 C421.74,219.91 420.82,219.91 419.93,220.04 C419.04,220.16 418.16,220.41 417.32,220.77 C416.48,221.14 415.65,221.63 414.89,222.22 C414.12,222.81 413.38,223.52 412.71,224.32 C412.04,225.13 411.41,226.04 410.85,227.03 C410.30,228.02 409.80,229.11 409.38,230.25 C408.96,231.39 408.60,232.62 408.32,233.89 C408.05,235.15 407.85,236.48 407.72,237.83 C407.60,239.18 407.56,240.58 407.60,241.96 C407.64,243.35 407.76,244.77 407.95,246.16 C408.15,247.54 408.42,248.94 408.77,250.29 C409.12,251.63 409.54,252.96 410.03,254.22 C410.52,255.48 411.08,256.71 411.69,257.85 C412.30,258.99 412.99,260.07 413.71,261.06 C414.43,262.04 415.21,262.95 416.01,263.74 C416.82,264.54 417.68,265.25 418.54,265.83 C419.41,266.42 420.31,266.90 421.22,267.26 C422.12,267.61 423.04,267.86 423.95,267.98 C424.86,268.09 426.22,267.97 426.67,267.96 C427.12,267.96 426.23,268.09 426.67,267.96Z" fill="#b6b6b6" stroke="#000" stroke-width="1.9" />
<path d="M420.00,219.00 C422.00,218.57 428.00,216.40 432.00,216.40 C436.00,216.40 440.33,217.07 444.00,219.00 C447.67,220.93 451.50,224.50 454.00,228.00 C456.50,231.50 458.33,235.67 459.00,240.00 C459.67,244.33 459.33,249.67 458.00,254.00 C456.67,258.33 454.00,262.67 451.00,266.00 C448.00,269.33 443.67,272.45 440.00,274.00 C436.33,275.55 430.83,275.08 429.00,275.30" fill="none" stroke="#000" stroke-width="1.9" />
<path d="M273.30,205.00 C273.72,203.62 274.13,199.33 275.80,196.70 C277.47,194.07 280.38,191.10 283.30,189.20 C286.22,187.30 289.68,186.00 293.30,185.30 C296.92,184.60 301.10,184.63 305.00,185.00 C308.90,185.37 311.98,185.55 316.70,187.50 C321.42,189.45 327.75,192.40 333.30,196.70 C338.85,201.00 345.00,207.47 350.00,213.30 C355.00,219.13 359.97,225.58 363.30,231.70 C366.63,237.82 368.13,243.95 370.00,250.00 C371.87,256.05 373.53,263.00 374.50,268.00 C375.47,273.00 376.00,275.78 375.80,280.00 C375.60,284.22 374.55,288.85 373.30,293.30 C372.05,297.75 370.23,303.22 368.30,306.70 C366.37,310.18 364.47,312.40 361.70,314.20 C358.93,316.00 355.18,317.37 351.70,317.50 C348.22,317.63 342.62,315.42 340.80,315.00 L355.00,305.80 C355.28,305.53 355.87,306.28 356.70,304.20 C357.53,302.12 359.12,297.33 360.00,293.30 C360.88,289.27 361.80,284.22 362.00,280.00 C362.20,275.78 362.08,272.45 361.20,268.00 C360.32,263.55 358.85,258.80 356.70,253.30 C354.55,247.80 352.58,241.80 348.30,235.00 C344.02,228.20 336.27,218.08 331.00,212.50 C325.73,206.92 321.32,204.28 316.70,201.50 C312.08,198.72 307.33,196.93 303.30,195.80 C299.27,194.67 294.30,194.88 292.50,194.70 L273.30,205.00Z" fill="url(#gCollar)" stroke="#000" stroke-width="1.9" />
<path d="M297.00,191.20 C298.33,191.30 302.17,191.17 305.00,191.80 C307.83,192.43 310.67,193.30 314.00,195.00 C317.33,196.70 321.17,199.00 325.00,202.00 C328.83,205.00 333.33,209.00 337.00,213.00 C340.67,217.00 345.33,223.83 347.00,226.00" fill="none" stroke="#ffffff" stroke-width="3.4" opacity="0.9" filter="url(#bl)"/>
<path d="M363.00,262.00 C363.67,264.17 366.25,270.67 367.00,275.00 C367.75,279.33 368.00,283.83 367.50,288.00 C367.00,292.17 364.58,298.00 364.00,300.00" fill="none" stroke="#ffffff" stroke-width="3.4" opacity="0.6" filter="url(#bl)"/>
<path d="M244.20,228.00 C246.00,228.27 250.98,228.30 255.00,229.60 C259.02,230.90 263.58,232.95 268.30,235.80 C273.02,238.65 278.85,242.95 283.30,246.70 C287.75,250.45 291.88,254.75 295.00,258.30 C298.12,261.85 300.00,264.38 302.00,268.00 C304.00,271.62 305.42,275.17 307.00,280.00 C308.58,284.83 310.57,291.33 311.50,297.00 C312.43,302.67 312.57,309.05 312.60,314.00 C312.63,318.95 312.03,323.70 311.70,326.70 C311.37,329.70 310.78,331.12 310.60,332.00 L355.00,305.80 C355.28,305.53 355.87,306.28 356.70,304.20 C357.53,302.12 359.12,297.33 360.00,293.30 C360.88,289.27 361.80,284.22 362.00,280.00 C362.20,275.78 362.08,272.45 361.20,268.00 C360.32,263.55 358.85,258.80 356.70,253.30 C354.55,247.80 352.58,241.80 348.30,235.00 C344.02,228.20 336.27,218.08 331.00,212.50 C325.73,206.92 321.32,204.28 316.70,201.50 C312.08,198.72 307.33,196.93 303.30,195.80 C299.27,194.67 294.30,194.88 292.50,194.70Z" fill="url(#gCyl)" stroke="#000" stroke-width="1.9" />
<path d="M130.70,305.00 L244.20,228.00 C246.00,228.27 250.98,228.30 255.00,229.60 C259.02,230.90 263.58,232.95 268.30,235.80 C273.02,238.65 278.85,242.95 283.30,246.70 C287.75,250.45 291.88,254.75 295.00,258.30 C298.12,261.85 300.00,264.38 302.00,268.00 C304.00,271.62 305.42,275.17 307.00,280.00 C308.58,284.83 310.57,291.33 311.50,297.00 C312.43,302.67 312.57,309.05 312.60,314.00 C312.63,318.95 312.03,323.70 311.70,326.70 C311.37,329.70 310.78,331.12 310.60,332.00 L185.00,392.80Z" fill="url(#gCone)" stroke="#000" stroke-width="1.9" />
<path d="M179.45,395.88 C180.07,395.37 182.10,394.05 183.20,392.82 C184.30,391.60 185.27,390.14 186.06,388.52 C186.85,386.90 187.49,385.07 187.95,383.10 C188.41,381.13 188.70,378.98 188.80,376.73 C188.91,374.48 188.85,372.07 188.60,369.60 C188.36,367.14 187.94,364.54 187.35,361.93 C186.76,359.32 186.00,356.63 185.08,353.96 C184.17,351.29 183.08,348.56 181.87,345.91 C180.66,343.26 179.29,340.60 177.82,338.05 C176.34,335.50 174.72,332.98 173.03,330.60 C171.34,328.23 169.53,325.93 167.68,323.80 C165.82,321.68 163.87,319.66 161.90,317.85 C159.93,316.04 157.90,314.38 155.88,312.93 C153.87,311.49 151.82,310.22 149.81,309.19 C147.81,308.16 145.80,307.34 143.87,306.75 C141.94,306.16 140.03,305.80 138.23,305.67 C136.43,305.55 134.69,305.66 133.07,306.00 C131.46,306.34 129.93,306.92 128.55,307.72 C127.17,308.52 125.90,309.55 124.80,310.78 C123.70,312.00 122.73,313.46 121.94,315.08 C121.15,316.70 120.51,318.53 120.05,320.50 C119.59,322.47 119.30,324.62 119.20,326.87 C119.09,329.12 119.15,331.53 119.40,334.00 C119.64,336.46 120.06,339.06 120.65,341.67 C121.24,344.28 122.00,346.97 122.92,349.64 C123.83,352.31 124.92,355.04 126.13,357.69 C127.34,360.34 128.71,363.00 130.18,365.55 C131.66,368.10 133.28,370.62 134.97,373.00 C136.66,375.37 138.47,377.67 140.32,379.80 C142.18,381.92 144.13,383.94 146.10,385.75 C148.07,387.56 150.10,389.22 152.12,390.67 C154.13,392.11 156.18,393.38 158.19,394.41 C160.19,395.44 162.20,396.26 164.13,396.85 C166.06,397.44 167.97,397.80 169.77,397.93 C171.57,398.05 173.31,397.94 174.93,397.60 C176.54,397.26 178.70,396.17 179.45,395.88 C180.20,395.59 178.83,396.39 179.45,395.88Z" fill="url(#gFace)" stroke="#000" stroke-width="1.9" />
<path d="M165.43,376.25 C165.77,375.99 166.87,375.33 167.48,374.70 C168.08,374.07 168.63,373.32 169.08,372.47 C169.53,371.63 169.90,370.67 170.18,369.64 C170.46,368.61 170.66,367.48 170.76,366.29 C170.86,365.10 170.87,363.82 170.79,362.52 C170.71,361.21 170.54,359.83 170.28,358.44 C170.02,357.05 169.66,355.61 169.23,354.18 C168.80,352.75 168.28,351.30 167.69,349.87 C167.10,348.45 166.42,347.02 165.69,345.65 C164.96,344.27 164.15,342.91 163.30,341.63 C162.45,340.34 161.54,339.09 160.59,337.94 C159.65,336.78 158.66,335.68 157.65,334.69 C156.64,333.70 155.60,332.78 154.56,331.98 C153.52,331.18 152.45,330.48 151.41,329.90 C150.37,329.32 149.32,328.85 148.31,328.50 C147.30,328.16 146.29,327.93 145.34,327.84 C144.39,327.74 143.46,327.77 142.60,327.92 C141.74,328.07 140.92,328.35 140.17,328.75 C139.43,329.15 138.73,329.67 138.12,330.30 C137.52,330.93 136.97,331.68 136.52,332.53 C136.07,333.37 135.70,334.33 135.42,335.36 C135.14,336.39 134.94,337.52 134.84,338.71 C134.74,339.90 134.73,341.18 134.81,342.48 C134.89,343.79 135.06,345.17 135.32,346.56 C135.58,347.95 135.94,349.39 136.37,350.82 C136.80,352.25 137.32,353.70 137.91,355.13 C138.50,356.55 139.18,357.98 139.91,359.35 C140.64,360.73 141.45,362.09 142.30,363.37 C143.15,364.66 144.06,365.91 145.01,367.06 C145.95,368.22 146.94,369.32 147.95,370.31 C148.96,371.30 150.00,372.22 151.04,373.02 C152.08,373.82 153.15,374.52 154.19,375.10 C155.23,375.68 156.28,376.15 157.29,376.50 C158.30,376.84 159.31,377.07 160.26,377.16 C161.21,377.26 162.14,377.23 163.00,377.08 C163.86,376.93 165.02,376.39 165.43,376.25 C165.83,376.11 165.09,376.51 165.43,376.25Z" fill="#e2e2e2" stroke="none" stroke-width="1.9" />
<g clip-path="url(#cpHole)">
<path d="M167.83,374.85 C168.17,374.59 169.27,373.93 169.88,373.30 C170.48,372.67 171.03,371.92 171.48,371.07 C171.93,370.23 172.30,369.27 172.58,368.24 C172.86,367.21 173.06,366.08 173.16,364.89 C173.26,363.70 173.27,362.42 173.19,361.12 C173.11,359.81 172.94,358.43 172.68,357.04 C172.42,355.65 172.06,354.21 171.63,352.78 C171.20,351.35 170.68,349.90 170.09,348.47 C169.50,347.05 168.82,345.62 168.09,344.25 C167.36,342.87 166.55,341.51 165.70,340.23 C164.85,338.94 163.94,337.69 162.99,336.54 C162.05,335.38 161.06,334.28 160.05,333.29 C159.04,332.30 158.00,331.38 156.96,330.58 C155.92,329.78 154.85,329.08 153.81,328.50 C152.77,327.92 151.72,327.45 150.71,327.10 C149.70,326.76 148.69,326.53 147.74,326.44 C146.79,326.34 145.86,326.37 145.00,326.52 C144.14,326.67 143.32,326.95 142.57,327.35 C141.83,327.75 141.13,328.27 140.52,328.90 C139.92,329.53 139.37,330.28 138.92,331.13 C138.47,331.97 138.10,332.93 137.82,333.96 C137.54,334.99 137.34,336.12 137.24,337.31 C137.14,338.50 137.13,339.78 137.21,341.08 C137.29,342.39 137.46,343.77 137.72,345.16 C137.98,346.55 138.34,347.99 138.77,349.42 C139.20,350.85 139.72,352.30 140.31,353.73 C140.90,355.15 141.58,356.58 142.31,357.95 C143.04,359.33 143.85,360.69 144.70,361.97 C145.55,363.26 146.46,364.51 147.41,365.66 C148.35,366.82 149.34,367.92 150.35,368.91 C151.36,369.90 152.40,370.82 153.44,371.62 C154.48,372.42 155.55,373.12 156.59,373.70 C157.63,374.28 158.68,374.75 159.69,375.10 C160.70,375.44 161.71,375.67 162.66,375.76 C163.61,375.86 164.54,375.83 165.40,375.68 C166.26,375.53 167.42,374.99 167.83,374.85 C168.23,374.71 167.49,375.11 167.83,374.85Z" fill="url(#gHole)" stroke="#000" stroke-width="1.1" />
</g>
<path d="M165.43,376.25 C165.77,375.99 166.87,375.33 167.48,374.70 C168.08,374.07 168.63,373.32 169.08,372.47 C169.53,371.63 169.90,370.67 170.18,369.64 C170.46,368.61 170.66,367.48 170.76,366.29 C170.86,365.10 170.87,363.82 170.79,362.52 C170.71,361.21 170.54,359.83 170.28,358.44 C170.02,357.05 169.66,355.61 169.23,354.18 C168.80,352.75 168.28,351.30 167.69,349.87 C167.10,348.45 166.42,347.02 165.69,345.65 C164.96,344.27 164.15,342.91 163.30,341.63 C162.45,340.34 161.54,339.09 160.59,337.94 C159.65,336.78 158.66,335.68 157.65,334.69 C156.64,333.70 155.60,332.78 154.56,331.98 C153.52,331.18 152.45,330.48 151.41,329.90 C150.37,329.32 149.32,328.85 148.31,328.50 C147.30,328.16 146.29,327.93 145.34,327.84 C144.39,327.74 143.46,327.77 142.60,327.92 C141.74,328.07 140.92,328.35 140.17,328.75 C139.43,329.15 138.73,329.67 138.12,330.30 C137.52,330.93 136.97,331.68 136.52,332.53 C136.07,333.37 135.70,334.33 135.42,335.36 C135.14,336.39 134.94,337.52 134.84,338.71 C134.74,339.90 134.73,341.18 134.81,342.48 C134.89,343.79 135.06,345.17 135.32,346.56 C135.58,347.95 135.94,349.39 136.37,350.82 C136.80,352.25 137.32,353.70 137.91,355.13 C138.50,356.55 139.18,357.98 139.91,359.35 C140.64,360.73 141.45,362.09 142.30,363.37 C143.15,364.66 144.06,365.91 145.01,367.06 C145.95,368.22 146.94,369.32 147.95,370.31 C148.96,371.30 150.00,372.22 151.04,373.02 C152.08,373.82 153.15,374.52 154.19,375.10 C155.23,375.68 156.28,376.15 157.29,376.50 C158.30,376.84 159.31,377.07 160.26,377.16 C161.21,377.26 162.14,377.23 163.00,377.08 C163.86,376.93 165.02,376.39 165.43,376.25 C165.83,376.11 165.09,376.51 165.43,376.25Z" fill="none" stroke="#000" stroke-width="1.9" />
<ellipse cx="289" cy="205.5" rx="9" ry="4.5" transform="rotate(-30 289 205.5)" fill="#bcbcbc" opacity="0.45" filter="url(#bl)"/>
<ellipse cx="346" cy="280" rx="9" ry="7.5" fill="#ffffff" opacity="0.4" filter="url(#bl)"/>
<path d="M440,299 L447,295 M451.5,292.5 L458,288.5" stroke="#bdbdbd" stroke-width="2" fill="none" opacity="0.6" filter="url(#bl)"/>
<line x1="117.50" y1="368.50" x2="191.50" y2="325.20" stroke="#000" stroke-width="1.8" stroke-linecap="butt"/>
<line x1="196.50" y1="322.27" x2="202.30" y2="318.88" stroke="#000" stroke-width="1.8" stroke-linecap="butt"/>
<line x1="207.50" y1="315.83" x2="278.30" y2="274.40" stroke="#000" stroke-width="1.8" stroke-linecap="butt"/>
<line x1="283.30" y1="271.47" x2="288.50" y2="268.43" stroke="#000" stroke-width="1.8" stroke-linecap="butt"/>
<line x1="293.30" y1="265.62" x2="366.70" y2="222.67" stroke="#000" stroke-width="1.8" stroke-linecap="butt"/>
<line x1="371.70" y1="219.74" x2="377.50" y2="216.35" stroke="#000" stroke-width="1.8" stroke-linecap="butt"/>
<line x1="382.50" y1="213.42" x2="455.30" y2="170.82" stroke="#000" stroke-width="1.8" stroke-linecap="butt"/>
<line x1="460.00" y1="168.07" x2="465.30" y2="164.97" stroke="#000" stroke-width="1.8" stroke-linecap="butt"/>
<line x1="470.00" y1="162.22" x2="524.40" y2="130.38" stroke="#000" stroke-width="1.8" stroke-linecap="butt"/>
<line x1="93.60" y1="301.20" x2="255.00" y2="217.20" stroke="#000" stroke-width="1.8" />
<line x1="26.00" y1="368.60" x2="130.70" y2="306.00" stroke="#000" stroke-width="1.8" />
<line x1="82.00" y1="461.50" x2="185.50" y2="395.20" stroke="#000" stroke-width="1.8" />
<line x1="80.00" y1="363.00" x2="141.00" y2="328.50" stroke="#000" stroke-width="1.8" />
<line x1="106.70" y1="410.50" x2="163.30" y2="378.50" stroke="#000" stroke-width="1.8" />
<line x1="73.00" y1="385.60" x2="58.80" y2="359.49" stroke="#000" stroke-width="1.8" />
<polygon points="55.60,353.60 62.79,358.45 55.76,362.28" fill="#000" stroke="none"/>
<line x1="87.50" y1="411.50" x2="102.64" y2="437.60" stroke="#000" stroke-width="1.8" />
<polygon points="106.00,443.40 98.68,438.75 105.60,434.73" fill="#000" stroke="none"/>
<line x1="76.60" y1="324.40" x2="88.74" y2="346.15" stroke="#000" stroke-width="1.8" />
<polygon points="92.00,352.00 84.76,347.22 91.74,343.33" fill="#000" stroke="none"/>
<line x1="138.50" y1="433.00" x2="125.86" y2="411.20" stroke="#000" stroke-width="1.8" />
<polygon points="122.50,405.40 129.82,410.06 122.90,414.07" fill="#000" stroke="none"/>
<line x1="180.00" y1="214.30" x2="194.00" y2="239.07" stroke="#000" stroke-width="1.8" />
<polygon points="197.30,244.90 190.03,240.17 196.99,236.23" fill="#000" stroke="none"/>
<line x1="144.50" y1="256.00" x2="147.41" y2="261.45" stroke="#000" stroke-width="1.8" />
<polygon points="150.00,266.30 144.12,262.07 149.76,259.06" fill="#000" stroke="none"/>
<line x1="188.10" y1="362.00" x2="188.10" y2="505.00" stroke="#000" stroke-width="1.8" />
<line x1="469.00" y1="262.00" x2="469.00" y2="338.50" stroke="#000" stroke-width="1.8" />
<line x1="316.70" y1="415.90" x2="195.39" y2="486.53" stroke="#000" stroke-width="1.8" />
<polygon points="189.60,489.90 194.24,482.57 198.27,489.48" fill="#000" stroke="none"/>
<line x1="339.50" y1="402.60" x2="460.61" y2="331.98" stroke="#000" stroke-width="1.8" />
<polygon points="466.40,328.60 461.76,335.93 457.73,329.02" fill="#000" stroke="none"/>
<polyline points="485,237.5 497.5,268.25 574.25,268.25" fill="none" stroke="#000" stroke-width="1.8"/>
<g opacity="0.999">
<text stroke="#000" stroke-width="0.25" font-size="21" text-anchor="middle" transform="translate(540.00 262.50) rotate(0) scale(1.07 1)">HSK-A</text>
<text stroke="#000" stroke-width="0.25" font-size="21" text-anchor="middle" transform="translate(85.50 404.60) rotate(-28) scale(1.07 1)">D</text>
<text stroke="#000" stroke-width="0.25" font-size="21" text-anchor="middle" transform="translate(109.50 390.00) rotate(-28) scale(1.07 1)">d</text>
<text stroke="#000" stroke-width="0.25" font-size="21" text-anchor="middle" transform="translate(201.00 220.20) rotate(-28) scale(1.07 1)">D</text>
<text stroke="#000" stroke-width="0.25" font-size="21" text-anchor="middle" transform="translate(144.00 252.20) rotate(-30) scale(1.07 1)">4,5°</text>
<text stroke="#000" stroke-width="0.25" font-size="21" text-anchor="middle" transform="translate(332.40 414.80) rotate(-30) scale(1.07 1)">A</text>
</g>
</svg>
</body></html>
